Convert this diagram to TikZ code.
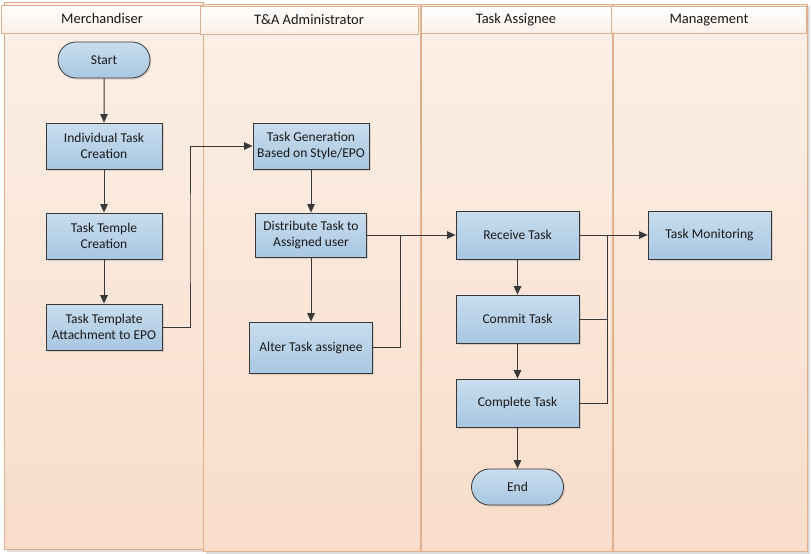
\documentclass[tikz,border=0pt]{standalone}
\usepackage{fontspec}
\setmainfont{Carlito}
\usetikzlibrary{arrows.meta,shadows,shapes.misc}

\definecolor{laneborder}{HTML}{E0B08E}
\definecolor{lanetop}{HTML}{FCF0E7}
\definecolor{lanebot}{HTML}{F9DDCA}
\definecolor{boxtop}{HTML}{C9DDEE}
\definecolor{boxbot}{HTML}{A8C7E2}
\definecolor{edgecol}{HTML}{383838}
\definecolor{shadowcol}{HTML}{DCDCDC}

\begin{document}
\begin{tikzpicture}[x=1pt,y=-1pt,
 lane/.style={draw=laneborder, line width=0.9pt, top color=lanetop, bottom color=lanebot},
 header/.style={draw=laneborder, line width=0.9pt, top color=white, bottom color=lanetop},
 hdtext/.style={font=\fontsize{14.5}{16}\selectfont, text=black!90},
 proc/.style={draw=edgecol, line width=0.8pt, top color=boxtop, bottom color=boxbot,
   minimum width=116pt, minimum height=46pt, align=center, inner sep=2pt,
   font=\fontsize{13.5}{16}\selectfont, text=black!90,
   drop shadow={opacity=0.25,shadow xshift=1.5pt,shadow yshift=-1.5pt}},
 term/.style={proc, rounded rectangle, minimum width=96pt, minimum height=36pt},
 conn/.style={draw=edgecol, line width=1pt, -{Triangle[length=8.5pt,width=7.5pt]}},
 plainline/.style={draw=edgecol, line width=1pt}
]
\useasboundingbox (0,0) rectangle (811,554);
\fill[white] (0,0) rectangle (811,554);

% lane shadows
\fill[shadowcol] (7,6) rectangle (206,552);
\fill[shadowcol] (206,6) rectangle (810,554);

% lanes
\path[lane] (4,2) rectangle (203,549);
\path[lane] (203,4) rectangle (420,551);
\path[lane] (421,4) rectangle (612,551);
\path[lane] (613,4) rectangle (807,551);

% headers
\node[header, hdtext, minimum width=202pt, minimum height=28pt, inner sep=0pt] (h1) at (102,19) {Merchandiser};
\node[header, hdtext, minimum width=218pt, minimum height=28pt, inner sep=0pt] (h2) at (309,20) {T\&A Administrator};
\node[header, hdtext, minimum width=190pt, minimum height=27pt, inner sep=0pt] (h3) at (516,20) {Task Assignee};
\node[header, hdtext, minimum width=195pt, minimum height=27pt, inner sep=0pt] (h4) at (709,20) {Management};

% nodes
\node[term] (start) at (104,60) {Start};
\node[proc] (itc) at (104,146) {Individual Task\\Creation};
\node[proc] (ttc) at (104,236) {Task Temple\\Creation};
\node[proc] (tta) at (104,327) {Task Template\\Attachment to EPO};
\node[proc] (tg) at (311,146) {Task Generation\\Based on Style/EPO};
\node[proc, minimum width=111pt, minimum height=44pt] (dt) at (311,235) {Distribute Task to\\Assigned user};
\node[proc, minimum width=123pt, minimum height=51pt] (alt) at (311,347.5) {Alter Task assignee};
\node[proc, minimum width=123pt, minimum height=48pt] (rt) at (517.5,235) {Receive Task};
\node[proc, minimum width=123pt, minimum height=48pt] (ct) at (517.5,319) {Commit Task};
\node[proc, minimum width=123pt, minimum height=48pt] (cpt) at (517.5,403) {Complete Task};
\node[term] (end) at (517.5,487) {End};
\node[proc, minimum width=123pt, minimum height=48pt] (tm) at (709.5,235) {Task Monitoring};

% junction coordinates
\coordinate (j1) at (190,240);
\coordinate (j2) at (400,235);
\coordinate (j3) at (607,235);

% connectors
\draw[conn] (start) -- (itc);
\draw[conn] (itc) -- (ttc);
\draw[conn] (ttc) -- (tta);
\draw[conn] (tta.east) -| (j1) |- (tg.west);
\draw[conn] (tg) -- (dt);
\draw[conn] (dt) -- (alt);
\draw[conn] (dt.east) -- (rt.west);
\draw[plainline] (alt.east) -| (j2);
\draw[conn] (rt) -- (ct);
\draw[conn] (ct) -- (cpt);
\draw[conn] (cpt) -- (end);
\draw[conn] (rt.east) -- (tm.west);
\draw[plainline] (ct.east) -| (j3);
\draw[plainline] (cpt.east) -| (j3);
\end{tikzpicture}
\end{document}
